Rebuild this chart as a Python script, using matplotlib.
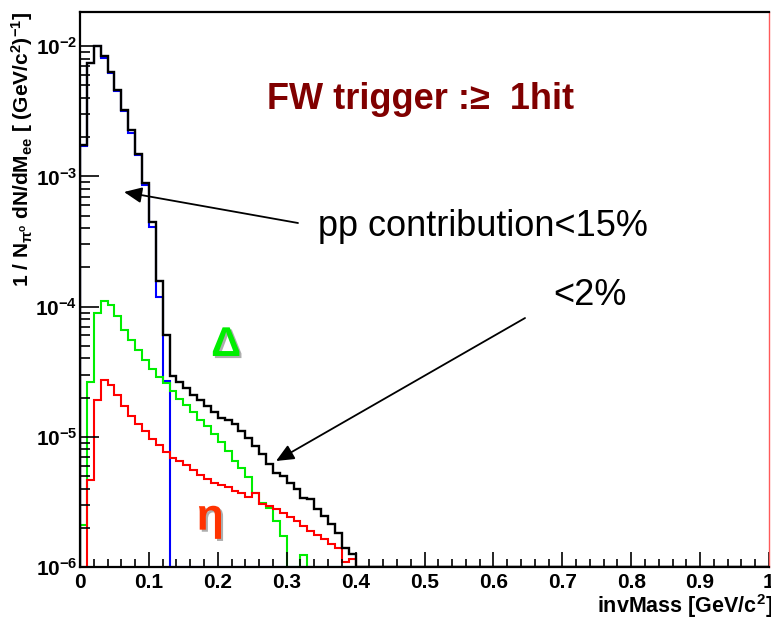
"""Dielectron invariant mass spectra, FW trigger selection."""
import numpy as np
import matplotlib
matplotlib.use('Agg')
import matplotlib.pyplot as plt
import matplotlib.patheffects as pe
from matplotlib.ticker import MultipleLocator, LogLocator, NullFormatter

# bins of 10 MeV/c^2 from 0 to 1 GeV/c^2; only the first 41 are filled
edges = np.linspace(0.0, 1.0, 101)

# pi0 Dalitz
pi0 = [1.72e-3, 7.4e-3, 1.0e-2, 8.1e-3, 6.2e-3, 4.5e-3, 3.2e-3, 2.16e-3,
       1.45e-3, 8.6e-4, 4.1e-4, 1.19e-4, 2.7e-5]

# sum of all sources
total = [1.74e-3, 7.4e-3, 1.01e-2, 8.37e-3, 6.28e-3, 4.62e-3, 3.24e-3, 2.27e-3,
         1.48e-3, 8.87e-4, 4.46e-4, 1.58e-4, 6.05e-5, 2.94e-5, 2.62e-5, 2.36e-5,
         2.1e-5, 1.9e-5, 1.72e-5, 1.55e-5, 1.4e-5, 1.35e-5, 1.25e-5, 1.11e-5,
         9.8e-6, 8.5e-6, 7.35e-6, 6.2e-6, 5.3e-6, 5.0e-6, 4.45e-6, 3.96e-6,
         3.4e-6, 3.3e-6, 2.78e-6, 2.47e-6, 2.13e-6, 1.84e-6, 1.41e-6, 1.25e-6, 0.0]

# Delta Dalitz
delta = [2.1e-6, 2.62e-5, 9.0e-5, 1.11e-4, 1.02e-4, 8.4e-5, 6.65e-5, 5.5e-5,
         4.63e-5, 3.9e-5, 3.3e-5, 2.9e-5, 2.57e-5, 2.26e-5, 1.95e-5, 1.75e-5,
         1.55e-5, 1.35e-5, 1.2e-5, 1.05e-5, 9.2e-6, 7.8e-6, 6.5e-6, 5.8e-6,
         4.9e-6, 3.73e-6, 3.1e-6, 2.86e-6, 2.26e-6, 1.73e-6, 0.0, 0.0, 1.24e-6]

# eta Dalitz
eta = [0.0, 4.64e-6, 1.91e-5, 2.73e-5, 2.5e-5, 2.09e-5, 1.71e-5, 1.45e-5,
       1.25e-5, 1.1e-5, 9.7e-6, 8.7e-6, 7.7e-6, 6.9e-6, 6.5e-6, 6.1e-6,
       5.6e-6, 5.1e-6, 4.7e-6, 4.45e-6, 4.3e-6, 4.08e-6, 3.86e-6, 3.73e-6,
       3.47e-6, 3.7e-6, 3.05e-6, 2.95e-6, 2.78e-6, 2.6e-6, 2.4e-6, 2.26e-6,
       2.07e-6, 1.89e-6, 1.76e-6, 1.63e-6, 1.5e-6, 1.4e-6, 1.1e-6, 1.15e-6, 0.0]

x_ticks = [0.0, 0.1, 0.2, 0.3, 0.4, 0.5, 0.6, 0.7, 0.8, 0.9, 1.0]
x_ticklabels = ['0', '0.1', '0.2', '0.3', '0.4', '0.5', '0.6', '0.7', '0.8', '0.9', '1']
y_ticks = [1e-6, 1e-5, 1e-4, 1e-3, 1e-2]
y_ticklabels = [r'$\mathbf{10^{-6}}$', r'$\mathbf{10^{-5}}$', r'$\mathbf{10^{-4}}$',
                r'$\mathbf{10^{-3}}$', r'$\mathbf{10^{-2}}$']

YMIN, YMAX = 1e-6, 1.83e-2


def padded(values):
    """Fill up to the full range and keep empty bins on the frame, as ROOT does."""
    full = np.zeros(len(edges) - 1)
    full[:len(values)] = values
    return np.clip(full, YMIN, None)


def main():
    plt.rcParams['font.family'] = ['Liberation Sans', 'DejaVu Sans']
    plt.rcParams['mathtext.fontset'] = 'custom'
    plt.rcParams['mathtext.rm'] = 'Liberation Sans'
    plt.rcParams['mathtext.bf'] = 'Liberation Sans:bold'
    plt.rcParams['mathtext.it'] = 'Liberation Sans:italic'

    fig = plt.figure(figsize=(7.71, 6.21), dpi=100)
    ax = fig.add_axes([80 / 771, 54 / 621, 689 / 771, 555 / 621])
    ax.set_yscale('log')

    ax.stairs(padded(pi0), edges, baseline=YMIN, color='#0000ff', lw=1.5)
    ax.stairs(padded(delta), edges, baseline=YMIN, color='#00ee00', lw=1.5)
    ax.stairs(padded(eta), edges, baseline=YMIN, color='#ff0000', lw=1.5)
    ax.stairs(padded(total), edges, baseline=YMIN, color='black', lw=1.7)

    ax.set_xlim(0, 1)
    ax.set_ylim(YMIN, YMAX)

    ax.set_xticks(x_ticks)
    ax.set_xticklabels(x_ticklabels, fontsize=15, fontweight='bold')
    ax.xaxis.set_minor_locator(MultipleLocator(0.02))
    ax.set_yticks(y_ticks)
    ax.set_yticklabels(y_ticklabels, fontsize=15)
    ax.yaxis.set_minor_locator(LogLocator(base=10, subs=np.arange(2, 10)))
    ax.yaxis.set_minor_formatter(NullFormatter())

    ax.tick_params(which='both', direction='in', top=False, right=False, width=1.2)
    ax.tick_params(axis='x', which='major', length=11, pad=4)
    ax.tick_params(axis='x', which='minor', length=6)
    ax.tick_params(axis='y', which='major', length=14, pad=2)
    ax.tick_params(axis='y', which='minor', length=7)

    for side in ['left', 'bottom', 'top']:
        ax.spines[side].set_linewidth(1.6)
    ax.spines['right'].set_color('#ff5a5a')
    ax.spines['right'].set_linewidth(1.0)

    ax.set_xlabel(r'$\mathbf{invMass\ [GeV/c^{2}]}$', fontsize=15.5, loc='right')
    ax.xaxis.set_label_coords(1.006, -0.046)
    ax.set_ylabel(r'$\mathbf{1\ /\ N_{\pi^{o}}\ dN/dM_{ee}\ [\ (GeV/c^{2})^{-1}]}$',
                  fontsize=15, loc='top')
    ax.yaxis.set_label_coords(-0.065, 1.0)

    ax.text(0.494, 0.843, u'FW trigger :\u2265  1hit', transform=ax.transAxes,
            ha='center', va='center', fontsize=26, fontweight='bold', color='#800000')
    ax.text(0.585, 0.613, 'pp contribution<15%', transform=ax.transAxes,
            ha='center', va='center', fontsize=26)
    ax.text(0.740, 0.490, '<2%', transform=ax.transAxes,
            ha='center', va='center', fontsize=26)

    shadow = [pe.SimplePatchShadow(offset=(1.5, -1.5), shadow_rgbFace='#999999', alpha=0.8),
              pe.Normal()]
    ax.text(0.212, 0.400, u'\u0394', transform=ax.transAxes, ha='center', va='center',
            fontsize=30, fontweight='bold', color='#00ee00', path_effects=shadow)
    ax.text(0.189, 0.088, u'\u03b7', transform=ax.transAxes, ha='center', va='center',
            fontsize=32, fontweight='bold', color='#ff3300', path_effects=shadow)

    arrow = dict(arrowstyle='-|>,head_length=0.45,head_width=0.2', color='black',
                 lw=1.3, mutation_scale=24, shrinkA=0, shrinkB=0)
    ax.annotate('', xy=(0.0639, 0.6757), xytext=(0.3164, 0.6198),
                xycoords='axes fraction', textcoords='axes fraction', arrowprops=arrow)
    ax.annotate('', xy=(0.2845, 0.191), xytext=(0.6459, 0.4486),
                xycoords='axes fraction', textcoords='axes fraction', arrowprops=arrow)

    fig.savefig('out.png', dpi=100, facecolor='white')


if __name__ == '__main__':
    main()
